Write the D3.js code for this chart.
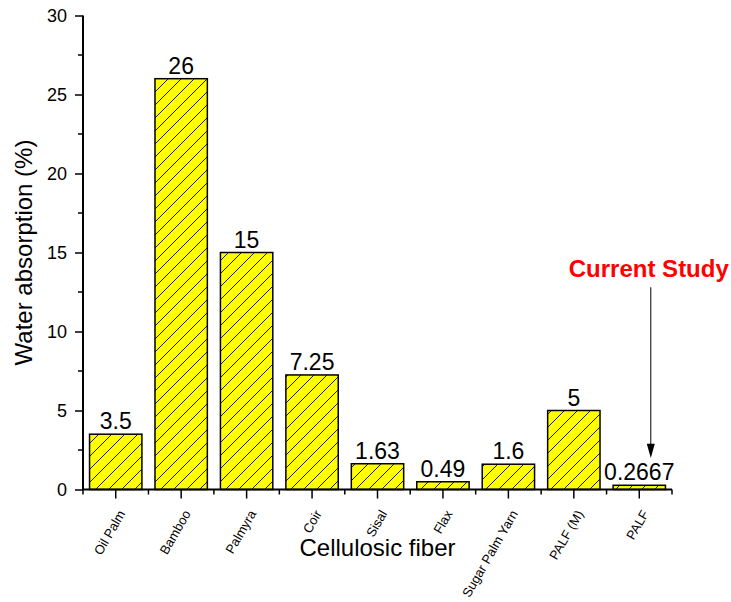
<!DOCTYPE html>
<html>
<head>
<meta charset="utf-8">
<script src="https://cdn.jsdelivr.net/npm/d3@7"></script>
<style>
  body { margin: 0; background: #fff; }
  text { font-family: Arial, "Liberation Sans", sans-serif; }
</style>
</head>
<body>
<div id="chart"></div>
<script>
// data
const fibers = ['Oil Palm', 'Bamboo', 'Palmyra', 'Coir', 'Sisal', 'Flax', 'Sugar Palm Yarn', 'PALF (M)', 'PALF']
const absorption = [3.5, 26, 15, 7.25, 1.63, 0.49, 1.6, 5, 0.2667]
const valueLabels = ['3.5', '26', '15', '7.25', '1.63', '0.49', '1.6', '5', '0.2667']
const yTicks = [0, 5, 10, 15, 20, 25, 30]
const yMinorTicks = [2.5, 7.5, 12.5, 17.5, 22.5, 27.5]

const width = 731
const height = 602
const margin = { left: 83, right: 59, top: 15.5, bottom: 112.5 }

const svg = d3.select('#chart')
    .append('svg')
    .attr('width', width)
    .attr('height', height)

// hatch pattern (///)
const defs = svg.append('defs')
const pat = defs.append('pattern')
    .attr('id', 'hatch')
    .attr('patternUnits', 'userSpaceOnUse')
    .attr('width', 13)
    .attr('height', 13)
pat.append('rect').attr('width', 13).attr('height', 13).attr('fill', '#ffff00')
pat.append('path')
    .attr('d', 'M0,13 L13,0 M-3,3 L3,-3 M10,16 L16,10')
    .attr('stroke', '#000')
    .attr('stroke-width', 0.9)

const x = d3.scaleBand()
    .domain(fibers)
    .range([margin.left, width - margin.right])
    .paddingInner(0.2)
    .paddingOuter(0.1)

const y = d3.scaleLinear()
    .domain([0, 30])
    .range([height - margin.bottom, margin.top])

// bars
svg.selectAll('.bar')
    .data(absorption)
    .enter()
    .append('rect')
    .attr('class', 'bar')
    .attr('x', (d, i) => x(fibers[i]))
    .attr('y', d => y(d))
    .attr('width', x.bandwidth())
    .attr('height', d => y(0) - y(d))
    .attr('fill', 'url(#hatch)')
    .attr('stroke', '#000')
    .attr('stroke-width', 1.5)

// value labels
svg.selectAll('.val')
    .data(absorption)
    .enter()
    .append('text')
    .attr('class', 'val')
    .attr('x', (d, i) => x(fibers[i]) + x.bandwidth() / 2)
    .attr('y', d => y(d) - 5)
    .attr('text-anchor', 'middle')
    .attr('font-size', 23)
    .text((d, i) => valueLabels[i])

// y axis
const yAxis = svg.append('g')
    .attr('transform', 'translate(' + margin.left + ',0)')
    .call(d3.axisLeft(y).tickValues(yTicks).tickSize(8).tickPadding(8).tickFormat(d3.format('d')))
yAxis.select('.domain').attr('stroke-width', 2).attr('d', 'M0,' + y(0) + 'V' + y(30))
yAxis.selectAll('.tick line').attr('stroke-width', 1.5)
yAxis.selectAll('.tick text').attr('font-size', 18).attr('font-family', 'Arial, "Liberation Sans", sans-serif')
yAxis.selectAll('.minor')
    .data(yMinorTicks)
    .enter()
    .append('line')
    .attr('class', 'minor')
    .attr('x1', -5).attr('x2', 0)
    .attr('y1', d => y(d)).attr('y2', d => y(d))
    .attr('stroke', '#000')
    .attr('stroke-width', 1.5)

// x axis
const xAxis = svg.append('g')
    .attr('transform', 'translate(0,' + y(0) + ')')
xAxis.append('line')
    .attr('x1', margin.left - 1).attr('x2', width - margin.right)
    .attr('stroke', '#000').attr('stroke-width', 2)
xAxis.selectAll('.major')
    .data(fibers)
    .enter()
    .append('line')
    .attr('x1', d => x(d) + x.bandwidth() / 2)
    .attr('x2', d => x(d) + x.bandwidth() / 2)
    .attr('y1', 0).attr('y2', 9)
    .attr('stroke', '#000').attr('stroke-width', 1.5)
const bounds = fibers.map(d => x(d) - x.step() * x.paddingOuter())
bounds.push(x.range()[1])
xAxis.selectAll('.minorx')
    .data(bounds)
    .enter()
    .append('line')
    .attr('x1', d => d).attr('x2', d => d)
    .attr('y1', 0).attr('y2', 5)
    .attr('stroke', '#000').attr('stroke-width', 1.5)
xAxis.selectAll('.lbl')
    .data(fibers)
    .enter()
    .append('text')
    .attr('text-anchor', 'end')
    .attr('font-size', 13)
    .attr('transform', d => 'translate(' + (x(d) + x.bandwidth() / 2 + 10) + ',24) rotate(-60)')
    .text(d => d)

// axis titles
svg.append('text')
    .attr('x', (x.range()[0] + x.range()[1]) / 2)
    .attr('y', 556)
    .attr('text-anchor', 'middle')
    .attr('font-size', 24)
    .text('Cellulosic fiber')

svg.append('text')
    .attr('transform', 'translate(32,' + (y(0) + y(30)) / 2 + ') rotate(-90)')
    .attr('text-anchor', 'middle')
    .attr('font-size', 24)
    .text('Water absorption (%)')

// annotation for the current study
const ax = x('PALF') + x.bandwidth() * 0.72
svg.append('line')
    .attr('x1', ax).attr('x2', ax)
    .attr('y1', y(12.8)).attr('y2', y(2.8))
    .attr('stroke', '#000').attr('stroke-width', 1)
svg.append('path')
    .attr('d', 'M' + (ax - 4) + ',' + y(2.9) + 'L' + (ax + 4) + ',' + y(2.9) + 'L' + ax + ',' + y(2.0) + 'Z')
    .attr('fill', '#000')
svg.append('text')
    .attr('x', ax - 2)
    .attr('y', 277)
    .attr('text-anchor', 'middle')
    .attr('font-size', 24)
    .attr('font-weight', 'bold')
    .attr('fill', '#ff0000')
    .text('Current Study')
</script>
</body>
</html>
